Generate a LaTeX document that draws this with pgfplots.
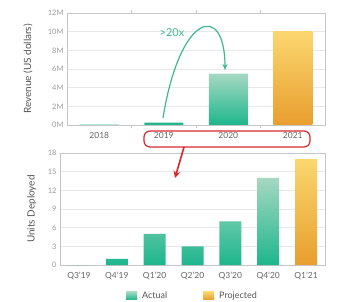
\documentclass[border=0pt]{standalone}
\usepackage{fontspec}
\setmainfont{Lato}
\usepackage{pgfplots}
\pgfplotsset{compat=1.18}
\usetikzlibrary{arrows.meta}
\definecolor{tealtop}{HTML}{A6D8C2}
\definecolor{tealbot}{HTML}{1DB68C}
\definecolor{orgtop}{HTML}{FBD66F}
\definecolor{orgbot}{HTML}{E89E2E}
\definecolor{arrowgreen}{HTML}{3DB991}
\definecolor{redc}{HTML}{D7282E}
\definecolor{ticky}{HTML}{9A9A9A}
\definecolor{tickx}{HTML}{666666}
\definecolor{labc}{HTML}{555555}
\begin{document}
\begin{tikzpicture}
\path[use as bounding box] (0,0) rectangle (342bp,302bp);
\pgfplotsset{mystyle/.style={
  scale only axis, anchor=south west,
  ymajorgrids, grid style={draw=gray!18, line width=0.6pt},
  axis line style={draw=gray!45},
  major tick length=0pt,
  /pgf/number format/assume math mode=true,
  yticklabel style={font=\fontsize{7.5}{9}\selectfont, text=ticky},
  xticklabel style={font=\fontsize{8.5}{10}\selectfont, text=tickx, yshift=-4bp},
  ylabel style={font=\fontsize{10}{12}\selectfont, text=labc, anchor=center},
  clip=false,
}}
\begin{axis}[mystyle, at={(67bp,177bp)}, width=258bp, height=112bp,
  xmin=-0.5, xmax=3.5, ymin=0, ymax=12,
  ytick={0,2,...,12}, yticklabels={0M,2M,4M,6M,8M,10M,12M},
  xtick={0,1,2,3}, xticklabels={2018,2019,2020,2021},
  minor xtick={0.5,1.5,2.5}, minor tick length=3bp, tick align=outside,
  minor tick style={draw=gray!45},
  ylabel={Revenue (US dollars)},
  ylabel style={at={(axis description cs:-0.151,0.5)}},
]
\addplot[ybar, bar width=39bp, bar shift=0pt, draw=none, top color=tealtop, bottom color=tealbot] coordinates {(0,0.04) (1,0.25) (2,5.5)};
\addplot[ybar, bar width=39bp, bar shift=0pt, draw=none, top color=orgtop, bottom color=orgbot] coordinates {(3,10)};
\end{axis}
\begin{axis}[mystyle, at={(60bp,37bp)}, width=265bp, height=112bp,
  xmin=-0.5, xmax=6.5, ymin=0, ymax=18,
  ytick={0,3,...,18},
  xtick={0,...,6}, xticklabels={Q3'19,Q4'19,Q1'20,Q2'20,Q3'20,Q4'20,Q1'21},
  ylabel={Units Deployed},
  ylabel style={at={(axis description cs:-0.106,0.5)}},
  legend style={at={(0.5,-0.205)}, anchor=north, draw=none, fill=none,
    legend columns=2, font=\fontsize{9}{11}\selectfont\color{labc},
    /tikz/every odd column/.append style={column sep=3bp},
    /tikz/every even column/.append style={column sep=34bp}},
  legend image code/.code={\fill[#1, draw=none] (0bp,-3.5bp) rectangle (11bp,4.5bp);},
]
\addplot[ybar, bar width=22bp, bar shift=0pt, draw=none, top color=tealtop, bottom color=tealbot] coordinates {(0,0) (1,1) (2,5) (3,3) (4,7) (5,14)};
\addlegendentry{Actual}
\addplot[ybar, bar width=22bp, bar shift=0pt, draw=none, top color=orgtop, bottom color=orgbot] coordinates {(6,17)};
\addlegendentry{Projected}
\end{axis}
% annotations
\draw[redc, line width=1.2bp, rounded corners=6bp] (144bp,155bp) rectangle (310bp,171bp);
\draw[redc, line width=1.6bp, -{Stealth[length=7bp,width=7bp]}] (184bp,155bp) -- (175bp,124bp);
\draw[arrowgreen, line width=1.2bp, -{Stealth[length=6bp,width=5bp]}] (163bp,184bp) .. controls (180bp,290bp) and (225bp,300bp) .. (225bp,232bp);
\node[text=arrowgreen, font=\fontsize{11}{13}\selectfont] at (172bp,269bp) {>20x};
\end{tikzpicture}
\end{document}
